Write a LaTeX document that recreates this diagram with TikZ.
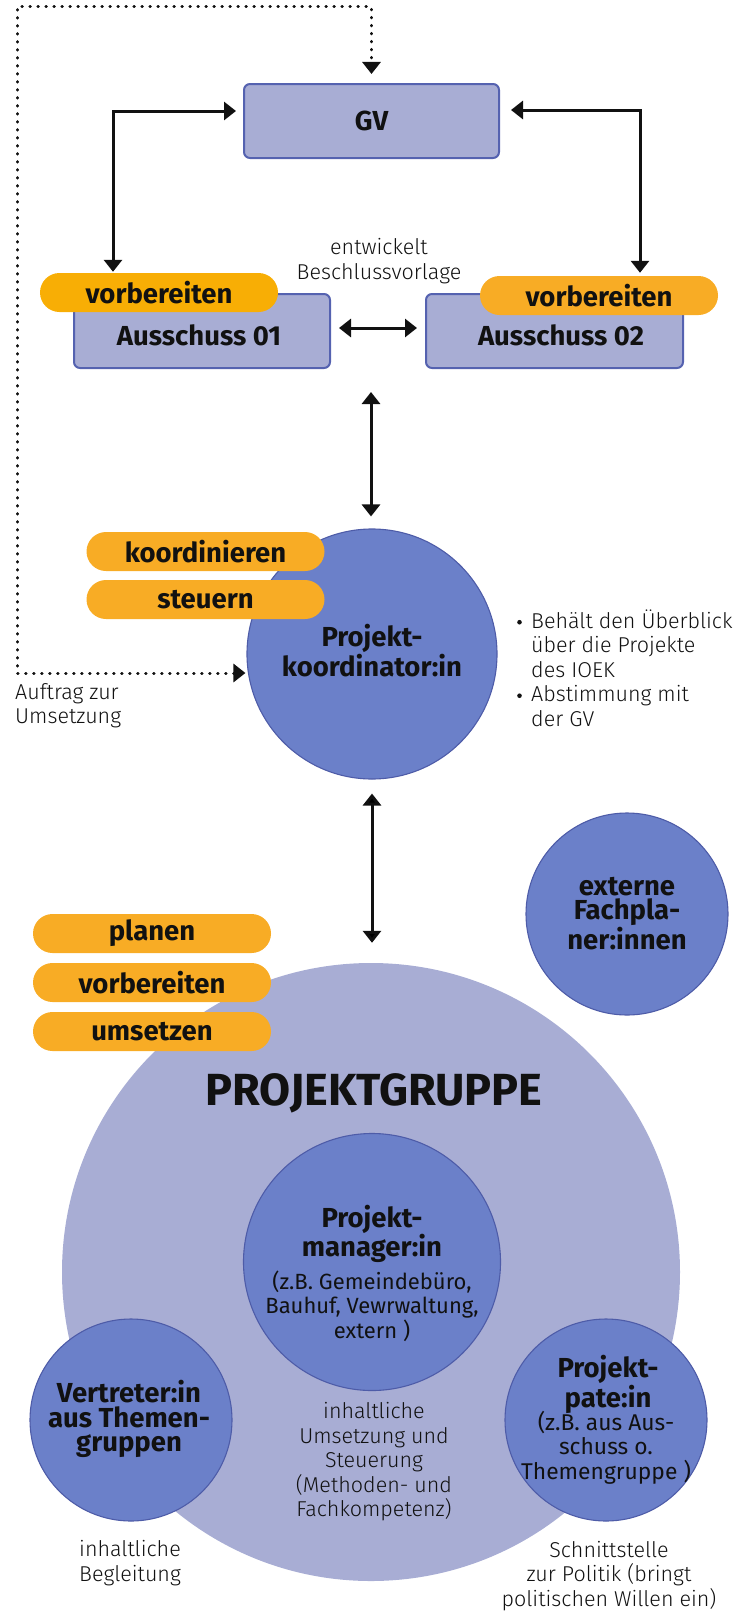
\documentclass[tikz,border=0pt]{standalone}
\usepackage{fontspec}
\usetikzlibrary{arrows.meta}
\IfFontExistsTF{Fira Sans Light}
  {\setmainfont{Fira Sans Light}[BoldFont={Fira Sans Bold}]}
  {\setmainfont{Fira Sans}}
\newfontfamily\regfont{Fira Sans}

\definecolor{boxfill}{HTML}{A8ADD4}
\definecolor{boxline}{HTML}{5562B0}
\definecolor{circfill}{HTML}{6B80C9}
\definecolor{circline}{HTML}{4E5CA8}
\definecolor{bigfill}{HTML}{A8ADD4}
\definecolor{pillA}{HTML}{F8AE05}
\definecolor{pillB}{HTML}{F8AC25}
\definecolor{ink}{HTML}{111111}

\newcommand\boldtxt{\fontsize{27.5}{24.5}\selectfont\bfseries}
\newcommand\bigtxt{\fontsize{45}{48}\selectfont\bfseries}
\newcommand\lighttxt{\fontsize{21.5}{24.5}\selectfont}
\newcommand\subtxt{\fontsize{22}{24.5}\selectfont\regfont}
\newcommand\patesubtxt{\fontsize{22.8}{24.5}\selectfont\regfont}
\newcommand\bulletdot{\makebox[14pt][l]{\tikz[baseline=-6pt]\fill[ink] (0,0) circle (2.3pt);}}

\tikzset{
  panel/.style={draw=boxline, fill=boxfill, line width=2pt, rounded corners=6pt,
    inner sep=0pt},
  pill/.style={fill=#1, rounded corners=19.5pt, minimum width=238pt,
    minimum height=39pt, inner sep=0pt, font=\boldtxt, text=ink},
  pill/.default=pillB,
  roundel/.style={circle, fill=circfill, draw=circline, line width=1.1pt,
    inner sep=0pt, minimum size=#1},
  label/.style={align=center, text=ink, inner sep=0pt},
  dblarrow/.style={line width=3pt, draw=ink, {Triangle[width=18pt,length=12pt]}-{Triangle[width=18pt,length=12pt]}},
  dotline/.style={line width=3pt, draw=ink, dash pattern=on 0.6pt off 7.4pt,
    line cap=round},
}

\begin{document}
\begin{tikzpicture}[x=1pt, y=-1pt]
\useasboundingbox (0,0) rectangle (750,1611);

% --- committee level -------------------------------------------------
\node[panel, minimum width=255pt, minimum height=74pt] (gv) at (371.5,121) {};
\node[label, font=\boldtxt] (gvt) at (371.5,121) {GV};

\node[panel, minimum width=256pt, minimum height=74pt] (a1) at (202,331) {};
\node[label, font=\boldtxt] (a1t) at (199,335) {Ausschuss 01};
\node[panel, minimum width=257pt, minimum height=74pt] (a2) at (554.5,331) {};
\node[label, font=\boldtxt] (a2t) at (561,335) {Ausschuss 02};

\node[pill=pillA] (vb1) at (159,292.5) {vorbereiten};
\node[pill] (vb2) at (599,295.5) {vorbereiten};

\node[label, font=\lighttxt] (beschluss) at (379,261) {entwickelt\\Beschlussvorlage};

\draw[dblarrow, shorten <=1pt, shorten >=7pt]
  ([xshift=-46pt]vb1.north) |- ([yshift=10pt]gv.west);
\draw[dblarrow, shorten <=3pt, shorten >=11pt]
  ([xshift=41pt]vb2.north) |- ([yshift=11pt]gv.east);
\draw[dblarrow, shorten <=8pt, shorten >=8pt]
  ([yshift=3pt]a1.east) -- ([yshift=3pt]a2.west);

% --- project coordination --------------------------------------------
\node[roundel=250pt] (kord) at (372,654) {};
\node[label, font=\boldtxt] (kordt) at (372,650.5) {Projekt-\\koordinator:in};
\node[pill] (koord) at (205.5,551.5) {koordinieren};
\node[pill] (steu) at (205.5,599.5) {steuern};

\coordinate (upper) at (371,392);
\draw[dblarrow, shorten >=12pt] (upper) -- (kord.north -| upper);

\draw[dotline, shorten <=1pt, shorten >=9pt,
  {Triangle[width=18pt,length=12pt]}-{Triangle[width=18pt,length=12pt]}]
  ([yshift=-19pt]kord.west) -| (17,7) -| (gv.north);

\node[label, font=\lighttxt, anchor=west, align=left] (auftrag) at (15,705.5)
  {Auftrag zur\\Umsetzung};

\node[label, font=\lighttxt, anchor=west, align=left] (aufgaben) at (517,668)
  {\bulletdot Behält den Überblick\\
   \hspace*{14pt}über die Projekte\\
   \hspace*{14pt}des IOEK\\
   \bulletdot Abstimmung mit\\
   \hspace*{14pt}der GV};

% --- project group -----------------------------------------------------
\node[circle, fill=bigfill, inner sep=0pt, minimum size=618pt] (pg) at (371,1272) {};
\draw[dblarrow, shorten <=14pt, shorten >=20pt] (kord.south) -- (pg.north -| kord.south);

\node[roundel=202pt] (ext) at (627,914) {};
\node[label, font=\boldtxt] (extt) at (627,913.5) {externe\\Fachpla-\\ner:innen};

\node[pill] (plan) at (152,933.5) {planen};
\node[pill] (vorb) at (152,982.5) {vorbereiten};
\node[pill] (ums) at (152,1031.5) {umsetzen};

\node[label, font=\bigtxt] (pgt) at (374,1093) {PROJEKTGRUPPE};

\node[roundel=257pt] (pm) at (372,1262) {};
\node[label, font=\boldtxt] (pmt) at (372,1234) {Projekt-\\manager:in};
\node[label, font=\subtxt] (pms) at (372,1306)
  {(z.B. Gemeindebüro,\\Bauhuf, Vewrwaltung,\\extern )};

\node[roundel=202pt] (vt) at (131,1420) {};
\node[label, font=\boldtxt] (vtt) at (129,1419) {Vertreter:in\\aus Themen-\\gruppen};

\node[roundel=202pt] (pp) at (606,1420) {};
\node[label, font=\boldtxt] (ppt) at (608,1384.5) {Projekt-\\pate:in};
\node[label, font=\patesubtxt] (pps) at (606,1447.5)
  {(z.B. aus Aus-\\schuss o.\\Themengruppe )};

\node[label, font=\lighttxt] (pmrole) at (374,1462)
  {inhaltliche\\Umsetzung und\\Steuerung\\(Methoden- und\\Fachkompetenz)};
\node[label, font=\lighttxt] (vtrole) at (130,1563) {inhaltliche\\Begleitung};
\node[label, font=\lighttxt] (pprole) at (609,1576)
  {Schnittstelle\\zur Politik (bringt\\politischen Willen ein)};

\end{tikzpicture}
\end{document}
